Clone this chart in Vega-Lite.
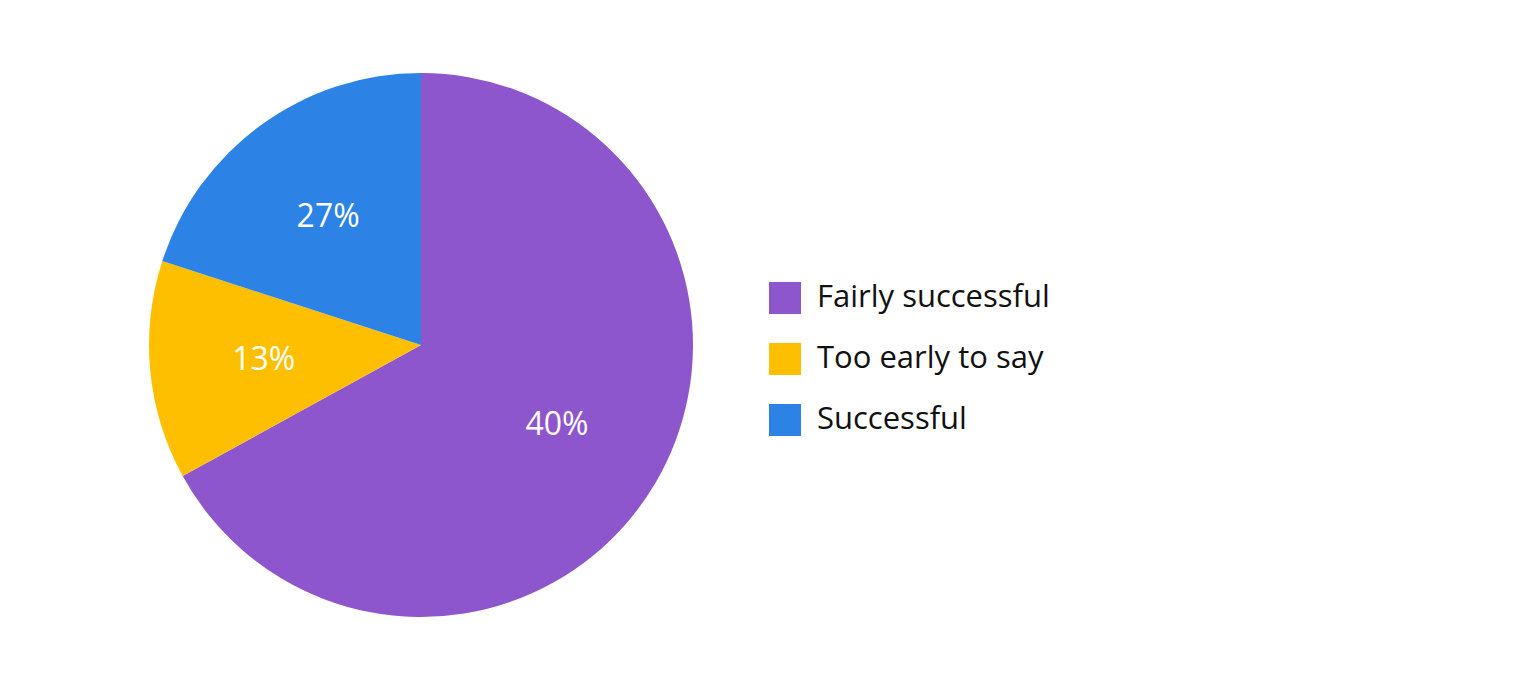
{
  "$schema": "https://vega.github.io/schema/vega-lite/v6.json",
  "width": 842,
  "height": 690,
  "padding": {"left": 0, "top": 0, "right": 696, "bottom": 0},
  "autosize": {"type": "none"},
  "background": "white",
  "config": {"view": {"stroke": null}, "font": "Open Sans"},
  "data": {
    "values": [
      {"category": "Fairly successful", "value": 67, "label": "40%", "rank": 1},
      {"category": "Too early to say", "value": 13, "label": "13%", "rank": 2},
      {"category": "Successful", "value": 20, "label": "27%", "rank": 3}
    ]
  },
  "encoding": {
    "theta": {"field": "value", "type": "quantitative", "stack": true},
    "order": {"field": "rank", "type": "quantitative"},
    "color": {
      "field": "category",
      "type": "nominal",
      "scale": {
        "domain": ["Fairly successful", "Too early to say", "Successful"],
        "range": ["#8E56CC", "#FDBF00", "#2C82E5"]
      },
      "legend": {
        "title": null,
        "orient": "none",
        "legendX": 769,
        "legendY": 282,
        "padding": 0,
        "symbolType": "square",
        "symbolSize": 1024,
        "symbolStrokeWidth": 0,
        "symbolOpacity": 1,
        "labelFontSize": 31,
        "labelFont": "Open Sans",
        "labelColor": "#111111",
        "labelOffset": 16,
        "rowPadding": 29,
        "labelLimit": 600
      }
    }
  },
  "layer": [
    {"mark": {"type": "arc", "outerRadius": 272, "stroke": null}},
    {
      "mark": {"type": "text", "radius": 158, "fontSize": 32, "font": "Open Sans", "color": "white"},
      "encoding": {"text": {"field": "label", "type": "nominal"}, "color": {"value": "white"}}
    }
  ]
}
